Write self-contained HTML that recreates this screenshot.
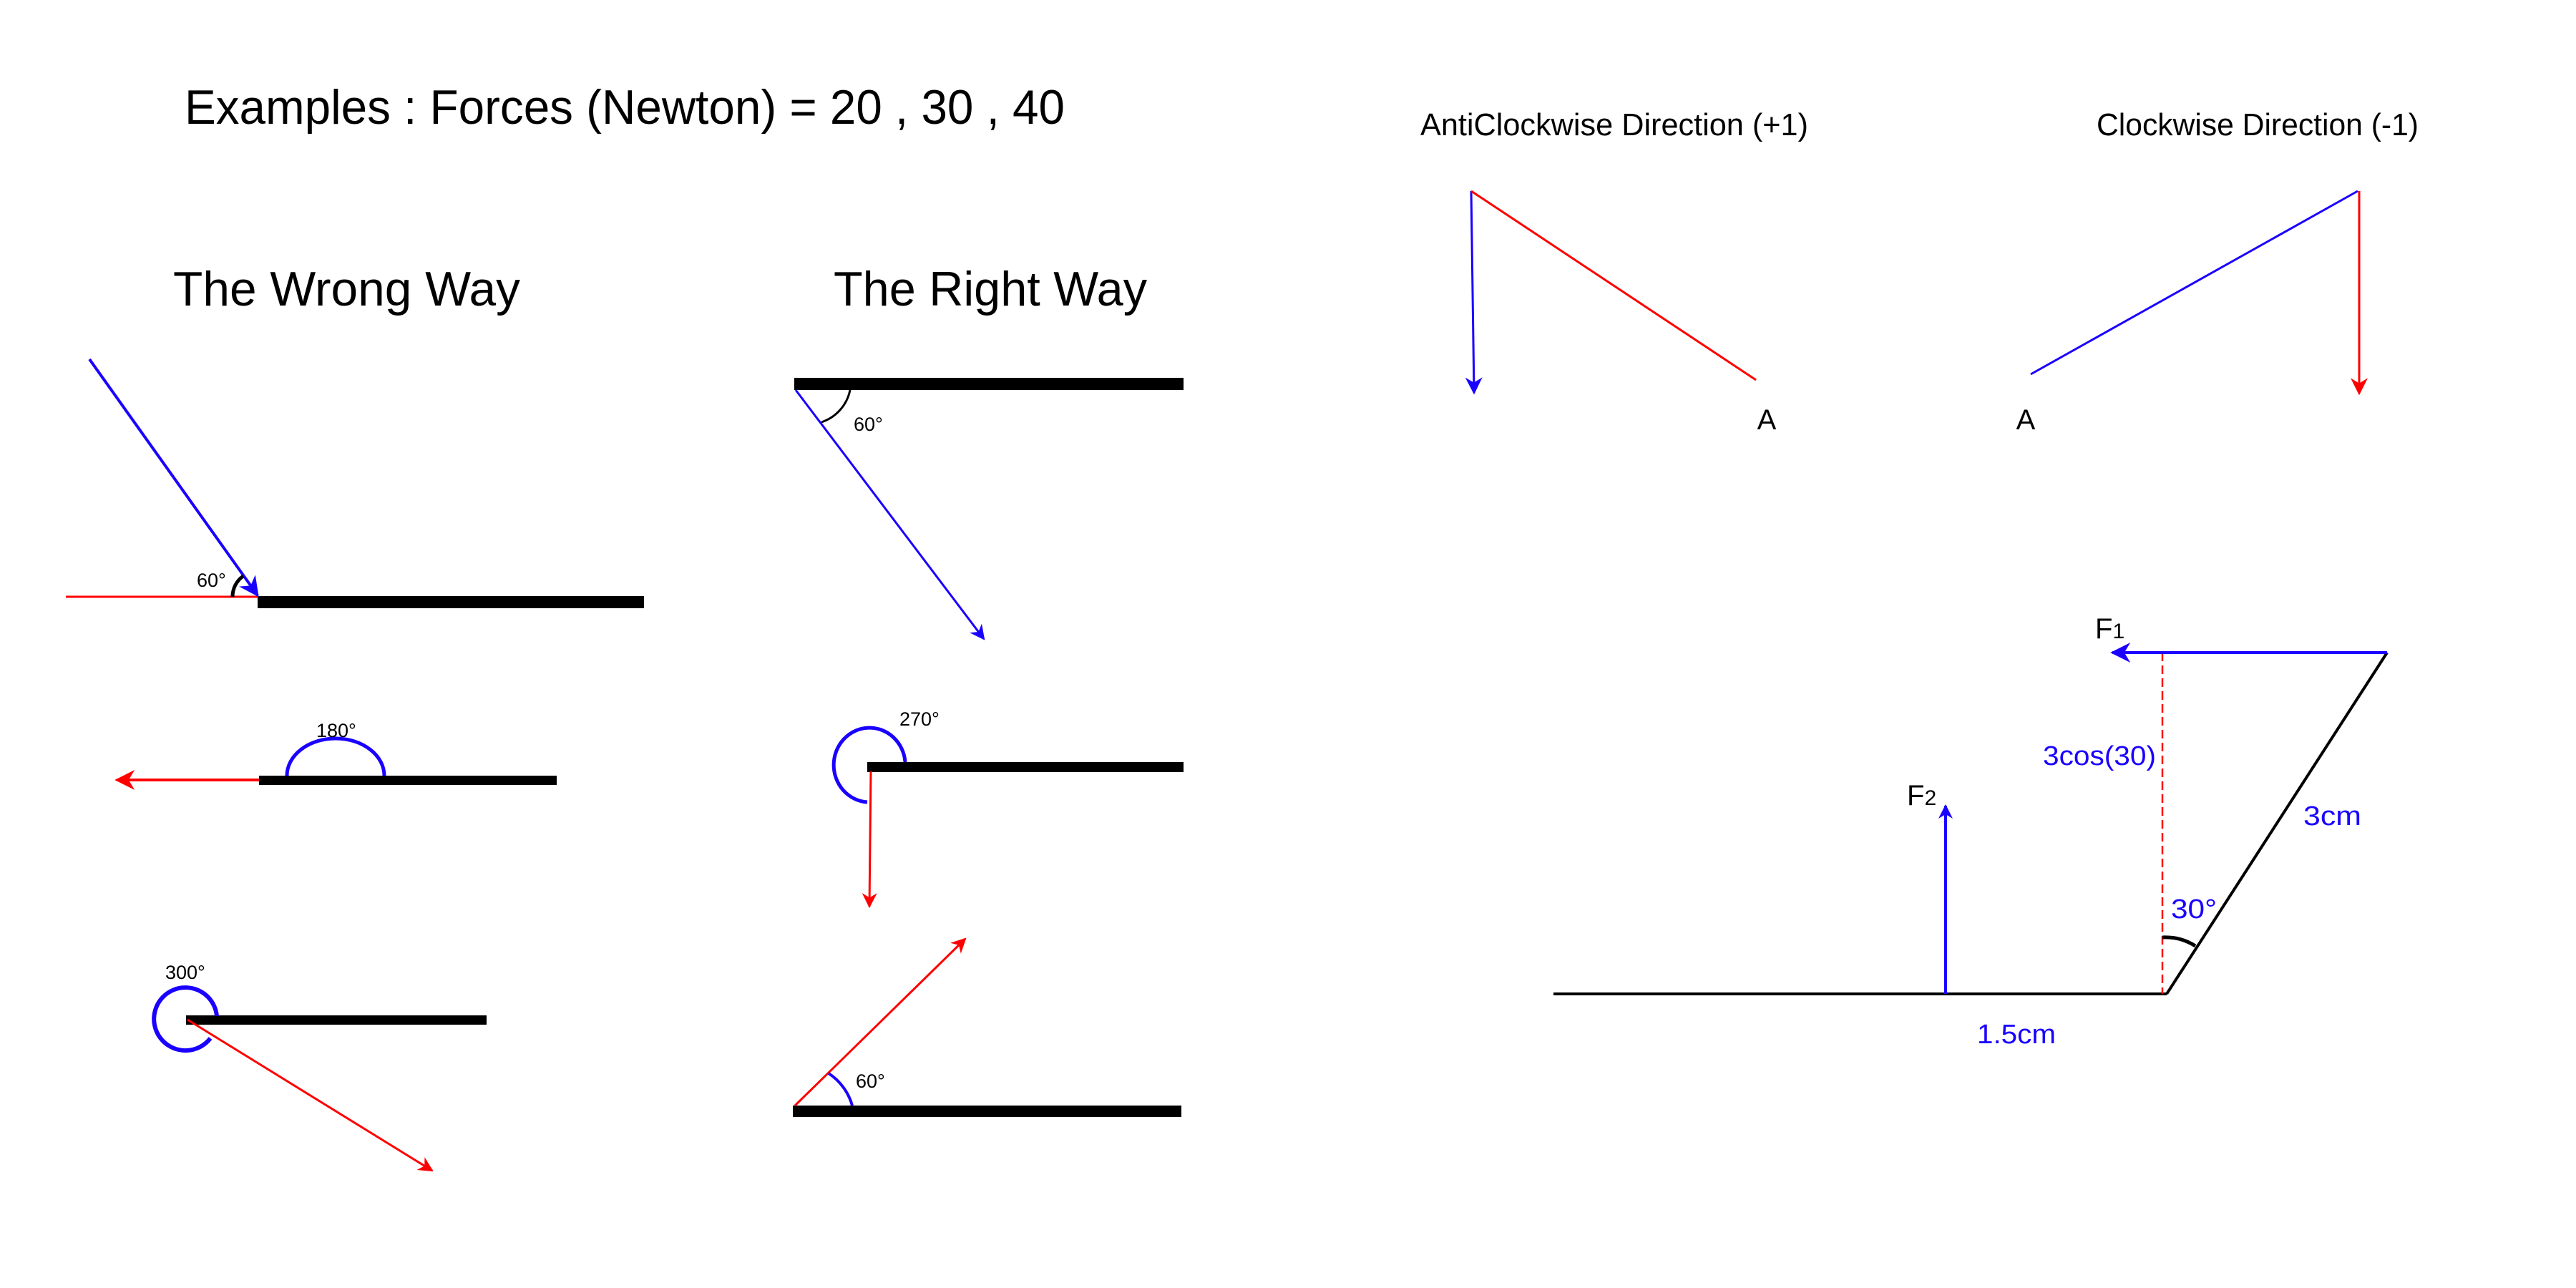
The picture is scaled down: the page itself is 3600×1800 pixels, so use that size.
<!DOCTYPE html>
<html><head><meta charset="utf-8"><style>
html,body{margin:0;padding:0;background:#fff}
svg{display:block}
text{font-family:"Liberation Sans",sans-serif}
</style></head><body>
<svg width="3600" height="1800" viewBox="0 0 3600 1800" xmlns="http://www.w3.org/2000/svg">
<defs>
<marker id="ab" viewBox="0 0 10 10" refX="9" refY="5" markerWidth="7" markerHeight="7" markerUnits="strokeWidth" orient="auto"><path d="M0,0 L10,5 L0,10 L3,5 Z" fill="#1a00ff"/></marker>
<marker id="ar" viewBox="0 0 10 10" refX="9" refY="5" markerWidth="7" markerHeight="7" markerUnits="strokeWidth" orient="auto"><path d="M0,0 L10,5 L0,10 L3,5 Z" fill="#ff0000"/></marker>
<marker id="ab2" viewBox="0 0 10 10" refX="9" refY="5" markerWidth="8" markerHeight="8" markerUnits="strokeWidth" orient="auto"><path d="M0,0 L10,5 L0,10 L3,5 Z" fill="#1a00ff"/></marker>
<marker id="ab3" viewBox="0 0 10 10" refX="9" refY="5" markerWidth="10" markerHeight="5" markerUnits="strokeWidth" orient="auto"><path d="M0,0 L10,5 L0,10 L3,5 Z" fill="#1a00ff"/></marker>
<marker id="ar2" viewBox="0 0 10 10" refX="9" refY="5" markerWidth="8" markerHeight="8" markerUnits="strokeWidth" orient="auto"><path d="M0,0 L10,5 L0,10 L3,5 Z" fill="#ff0000"/></marker>
</defs>
<rect width="3600" height="1800" fill="#fff"/>

<text x="258" y="173" font-size="68" textLength="1230" lengthAdjust="spacingAndGlyphs">Examples : Forces (Newton) = 20 , 30 , 40</text>
<text x="242" y="427" font-size="68" textLength="485" lengthAdjust="spacingAndGlyphs">The Wrong Way</text>
<text x="1165" y="427" font-size="68" textLength="438" lengthAdjust="spacingAndGlyphs">The Right Way</text>

<g>
<line x1="92" y1="834" x2="360" y2="834" stroke="#ff0000" stroke-width="3"/>
<rect x="360" y="833" width="540" height="17" fill="#000"/>
<line x1="125" y1="502" x2="360" y2="832" stroke="#1a00ff" stroke-width="4" marker-end="url(#ab)"/>
<path d="M325 834 A35 35 0 0 1 340 805" fill="none" stroke="#000" stroke-width="5"/>
<text x="275" y="820" font-size="27">60°</text>
</g>

<g>
<rect x="362" y="1084" width="416" height="13" fill="#000"/>
<line x1="362" y1="1090" x2="163" y2="1090" stroke="#ff0000" stroke-width="4" marker-end="url(#ar)"/>
<path d="M401 1084 A68 52 0 0 1 537 1084" fill="none" stroke="#1a00ff" stroke-width="5"/>
<text x="442" y="1030" font-size="27">180°</text>
</g>

<g>
<rect x="260" y="1419" width="420" height="13" fill="#000"/>
<path d="M303 1420 A44 44 0 1 0 294 1451" fill="none" stroke="#1a00ff" stroke-width="6"/>
<line x1="262" y1="1425" x2="604" y2="1636" stroke="#ff0000" stroke-width="3" marker-end="url(#ar)"/>
<text x="231" y="1368" font-size="27">300°</text>
</g>

<g>
<rect x="1110" y="528" width="544" height="17" fill="#000"/>
<line x1="1112" y1="545" x2="1375" y2="893" stroke="#1a00ff" stroke-width="3" marker-end="url(#ab)"/>
<path d="M1188 545 A60 60 0 0 1 1148 590" fill="none" stroke="#000" stroke-width="3"/>
<text x="1193" y="602" font-size="27">60°</text>
</g>

<g>
<rect x="1212" y="1065" width="442" height="14" fill="#000"/>
<path d="M1265 1065 A50 52 0 1 0 1212 1121" fill="none" stroke="#1a00ff" stroke-width="5"/>
<line x1="1217" y1="1078" x2="1215" y2="1267" stroke="#ff0000" stroke-width="3" marker-end="url(#ar)"/>
<text x="1257" y="1014" font-size="27">270°</text>
</g>

<g>
<rect x="1108" y="1545" width="543" height="16" fill="#000"/>
<line x1="1111" y1="1545" x2="1349" y2="1312" stroke="#ff0000" stroke-width="3" marker-end="url(#ar)"/>
<path d="M1191 1545 A80 80 0 0 0 1158 1500" fill="none" stroke="#1a00ff" stroke-width="4"/>
<text x="1196" y="1520" font-size="27">60°</text>
</g>

<g>
<text x="1985" y="189" font-size="44" textLength="542" lengthAdjust="spacingAndGlyphs">AntiClockwise Direction (+1)</text>
<line x1="2056" y1="267" x2="2060" y2="549" stroke="#1a00ff" stroke-width="3" marker-end="url(#ab2)"/>
<line x1="2056" y1="267" x2="2454" y2="531" stroke="#ff0000" stroke-width="3"/>
<text x="2469" y="600" font-size="40" text-anchor="middle">A</text>
</g>

<g>
<text x="2930" y="189" font-size="44" textLength="450" lengthAdjust="spacingAndGlyphs">Clockwise Direction (-1)</text>
<line x1="2838" y1="523" x2="3295" y2="267" stroke="#1a00ff" stroke-width="3"/>
<line x1="3297" y1="267" x2="3297" y2="550" stroke="#ff0000" stroke-width="3" marker-end="url(#ar2)"/>
<text x="2831" y="600" font-size="40" text-anchor="middle">A</text>
</g>

<g>
<line x1="2171" y1="1389" x2="3028" y2="1389" stroke="#000" stroke-width="4"/>
<line x1="3028" y1="1389" x2="3336" y2="912" stroke="#000" stroke-width="4"/>
<line x1="3022" y1="912" x2="3022" y2="1389" stroke="#ff0000" stroke-width="2.5" stroke-dasharray="12,6"/>
<line x1="3336" y1="912" x2="2952" y2="912" stroke="#1a00ff" stroke-width="4" marker-end="url(#ab)"/>
<line x1="2719" y1="1389" x2="2719" y2="1126" stroke="#1a00ff" stroke-width="4" marker-end="url(#ab3)"/>
<path d="M3022 1310 A78 78 0 0 1 3068 1322" fill="none" stroke="#000" stroke-width="5"/>
<text x="2928" y="892" font-size="40">F<tspan font-size="30">1</tspan></text>
<text x="2665" y="1125" font-size="40">F<tspan font-size="30">2</tspan></text>
<text x="2855" y="1069" font-size="38" fill="#1a00ff" textLength="158" lengthAdjust="spacingAndGlyphs">3cos(30)</text>
<text x="3219" y="1153" font-size="38" fill="#1a00ff" textLength="81" lengthAdjust="spacingAndGlyphs">3cm</text>
<text x="3034" y="1283" font-size="38" fill="#1a00ff" textLength="64" lengthAdjust="spacingAndGlyphs">30°</text>
<text x="2763" y="1458" font-size="38" fill="#1a00ff" textLength="110" lengthAdjust="spacingAndGlyphs">1.5cm</text>
</g>
</svg>
</body></html>
